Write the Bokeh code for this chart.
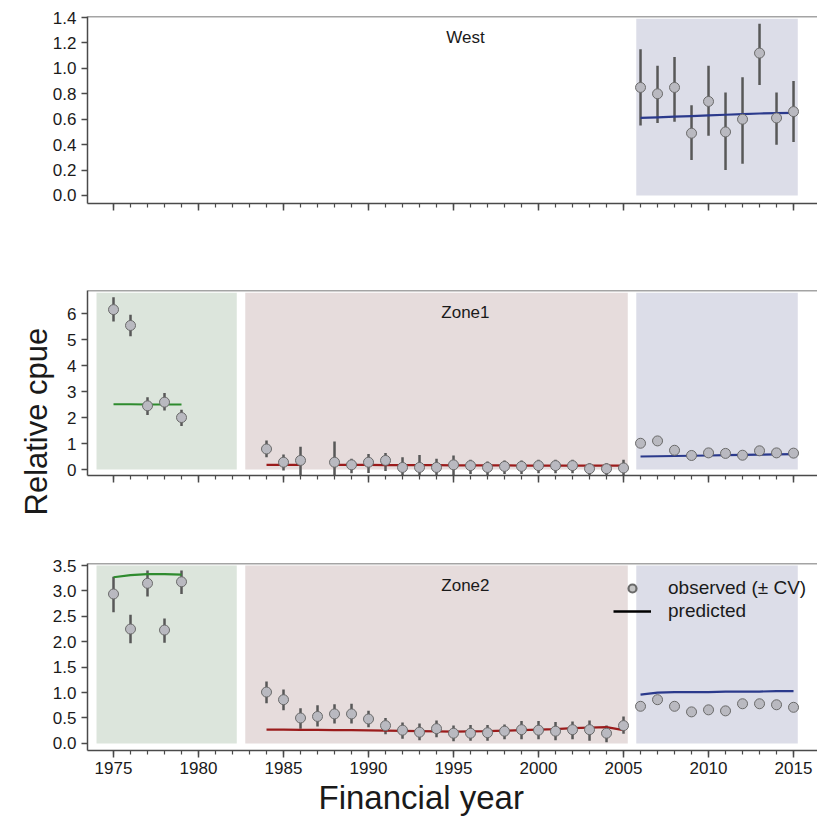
from bokeh.plotting import figure
from bokeh.layouts import column
from bokeh.models import (FixedTicker, Span, Label, Legend, LegendItem, Range1d,
                          CustomJSTickFormatter, Title)
from bokeh.embed import file_html
from bokeh.resources import INLINE

nan = float("nan")
FONT = "Liberation Sans"

# ---------------- data ----------------
years_early = [1975, 1976, 1977, 1978, 1979]
years_mid = list(range(1984, 2006))
years_late = list(range(2006, 2016))

# period shading (start, end) in years
band_left = [1974.0, 1982.75, 2005.75]
band_right = [1982.25, 2005.25, 2015.25]
band_colors = ["#dce5dc", "#e6dcdc", "#dcdde8"]

# West
west_obs = [0.85, 0.80, 0.85, 0.49, 0.74, 0.50, 0.60, 1.12, 0.61, 0.66]
west_lo = [0.55, 0.57, 0.58, 0.28, 0.47, 0.20, 0.25, 0.87, 0.40, 0.42]
west_hi = [1.15, 1.02, 1.09, 0.71, 1.02, 0.81, 0.93, 1.35, 0.81, 0.90]
west_pred = [0.61, 0.615, 0.62, 0.625, 0.63, 0.635, 0.64, 0.645, 0.648, 0.65]

# Zone1
z1_early_obs = [6.15, 5.54, 2.45, 2.59, 2.00]
z1_early_lo = [5.69, 5.13, 2.10, 2.27, 1.67]
z1_early_hi = [6.63, 5.95, 2.78, 2.94, 2.30]
z1_early_pred = [2.51, 2.51, 2.50, 2.50, 2.50]
z1_mid_obs = [0.79, 0.28, 0.35, nan, 0.28, 0.18, 0.28, 0.35, 0.08, 0.08, 0.08,
              0.18, 0.15, 0.08, 0.12, 0.12, 0.15, 0.15, 0.15, 0.03, 0.03, 0.06]
z1_mid_lo = [0.47, -0.04, -0.25, nan, -0.25, -0.14, -0.13, -0.06, -0.25, -0.25, -0.25,
             -0.23, -0.17, -0.23, -0.17, -0.17, -0.14, -0.14, -0.14, -0.23, -0.23, -0.27]
z1_mid_hi = [1.12, 0.58, 0.88, nan, 1.08, 0.41, 0.60, 0.64, 0.47, 0.56, 0.41,
             0.54, 0.38, 0.31, 0.35, 0.35, 0.38, 0.38, 0.38, 0.24, 0.24, 0.38]
z1_mid_pred = [0.18, 0.18, 0.18, nan, 0.18, 0.18, 0.18, 0.17, 0.17, 0.17, 0.17,
               0.16, 0.16, 0.16, 0.16, 0.15, 0.15, 0.15, 0.15, 0.15, 0.15, 0.15]
z1_late_obs = [1.01, 1.10, 0.74, 0.54, 0.64, 0.62, 0.55, 0.72, 0.64, 0.63]
z1_late_lo = [0.97, 1.06, 0.70, 0.50, 0.60, 0.58, 0.51, 0.68, 0.60, 0.59]
z1_late_hi = [1.05, 1.14, 0.78, 0.58, 0.68, 0.66, 0.59, 0.76, 0.68, 0.67]
z1_late_pred = [0.50, 0.51, 0.52, 0.53, 0.54, 0.55, 0.56, 0.57, 0.58, 0.59]

# Zone2
z2_early_obs = [2.94, 2.25, 3.15, 2.23, 3.18]
z2_early_lo = [2.58, 1.97, 2.89, 1.98, 2.94]
z2_early_hi = [3.28, 2.53, 3.40, 2.46, 3.40]
z2_early_pred = [3.27, 3.31, 3.33, 3.33, 3.32]
z2_mid_obs = [1.01, 0.86, 0.50, 0.53, 0.58, 0.58, 0.48, 0.35, 0.26, 0.22, 0.29,
              0.20, 0.20, 0.21, 0.24, 0.27, 0.26, 0.24, 0.27, 0.27, 0.20, 0.35]
z2_mid_lo = [0.79, 0.65, 0.29, 0.33, 0.39, 0.39, 0.32, 0.18, 0.09, 0.06, 0.12,
             0.04, 0.05, 0.05, 0.08, 0.08, 0.08, 0.06, 0.08, 0.05, 0.02, 0.19]
z2_mid_hi = [1.22, 1.06, 0.69, 0.75, 0.77, 0.78, 0.64, 0.50, 0.41, 0.39, 0.45,
             0.35, 0.36, 0.36, 0.37, 0.44, 0.44, 0.42, 0.43, 0.45, 0.35, 0.53]
z2_mid_pred = [0.27, 0.27, 0.265, 0.265, 0.26, 0.26, 0.255, 0.25, 0.245, 0.24, 0.235,
               0.23, 0.235, 0.24, 0.25, 0.26, 0.27, 0.28, 0.30, 0.31, 0.32, 0.26]
z2_late_obs = [0.73, 0.86, 0.73, 0.62, 0.66, 0.64, 0.78, 0.78, 0.76, 0.71]
z2_late_lo = [0.69, 0.82, 0.69, 0.58, 0.62, 0.60, 0.74, 0.74, 0.72, 0.67]
z2_late_hi = [0.77, 0.90, 0.77, 0.66, 0.70, 0.68, 0.82, 0.82, 0.80, 0.75]
z2_late_pred = [0.96, 1.00, 1.01, 1.01, 1.01, 1.02, 1.02, 1.02, 1.03, 1.03]

x_major = [1975, 1980, 1985, 1990, 1995, 2000, 2005, 2010, 2015]
x_minor = list(range(1975, 2016))

west_yticks = [0.0, 0.2, 0.4, 0.6, 0.8, 1.0, 1.2, 1.4]
z1_yticks = [0, 1, 2, 3, 4, 5, 6]
z2_yticks = [0.0, 0.5, 1.0, 1.5, 2.0, 2.5, 3.0, 3.5]

# ---------------- styling ----------------
AX = "#4a4a4a"
TXT = "#1a1a1a"
PRED_COLORS = ["#2e8b2e", "#9b1c1c", "#2b3a8c"]
X_RANGE = (1973.47, 2016.41)


def make_panel(height, top, bottom, yr, yticks, show_xlabels):
    p = figure(width=817, height=height, output_backend="svg", toolbar_location=None,
               x_range=Range1d(*X_RANGE), y_range=Range1d(*yr),
               min_border_left=87, min_border_right=0,
               min_border_top=top, min_border_bottom=bottom)
    p.outline_line_color = None
    p.xgrid.visible = False
    p.ygrid.visible = False
    p.background_fill_color = "white"
    p.border_fill_color = "white"
    for ax in (p.xaxis[0], p.yaxis[0]):
        ax.axis_line_color = AX
        ax.axis_line_width = 1.5
        ax.major_tick_line_color = AX
        ax.major_tick_line_width = 1.5
        ax.major_tick_in = 0
        ax.major_label_text_font = FONT
        ax.major_label_text_font_size = "17px"
        ax.major_label_text_color = TXT
    p.xaxis.ticker = FixedTicker(ticks=x_major, minor_ticks=x_minor)
    p.xaxis.major_tick_out = 7
    p.xaxis.minor_tick_out = 4
    p.xaxis.minor_tick_in = 0
    p.xaxis.minor_tick_line_color = AX
    p.xaxis.minor_tick_line_width = 1.2
    p.xaxis.major_label_standoff = 4
    if not show_xlabels:
        p.xaxis.formatter = CustomJSTickFormatter(code="return ''")
    p.yaxis.ticker = FixedTicker(ticks=yticks, minor_ticks=[])
    p.yaxis.major_tick_out = 6
    p.yaxis.major_label_standoff = 5
    p.add_layout(Span(location=yr[1], dimension="width", line_color=AX, line_width=1.5))
    return p


def draw_period(p, years, obs, lo, hi, pred, color):
    p.segment(x0=years, y0=lo, x1=years, y1=hi, line_color="#585858", line_width=2.5)
    p.line(years, pred, line_color=color, line_width=2.2)
    p.scatter(years, obs, size=10, fill_color="#b9b9c0", line_color="#6a6a6a",
              line_width=1)


def bands(p, idx, top):
    p.quad(left=[band_left[i] for i in idx], right=[band_right[i] for i in idx],
           bottom=0, top=top, fill_color=[band_colors[i] for i in idx], line_color=None)


def title(p, text, y):
    p.add_layout(Label(x=1995.7, y=y, text=text, text_align="center",
                       text_baseline="middle", text_font=FONT,
                       text_font_size="17px", text_color=TXT))


# ---- West ----
p1 = make_panel(248, 16, 45, (-0.063, 1.408), west_yticks, False)
p1.yaxis.formatter = CustomJSTickFormatter(code="return tick.toFixed(1)")
bands(p1, [2], 1.39)
draw_period(p1, years_late, west_obs, west_lo, west_hi, west_pred, PRED_COLORS[2])
title(p1, "West", 1.24)

# ---- Zone1 ----
p2 = make_panel(272, 42, 45, (-0.23, 6.885), z1_yticks, False)
bands(p2, [0, 1, 2], 6.8)
draw_period(p2, years_early, z1_early_obs, z1_early_lo, z1_early_hi, z1_early_pred, PRED_COLORS[0])
draw_period(p2, years_mid, z1_mid_obs, z1_mid_lo, z1_mid_hi, z1_mid_pred, PRED_COLORS[1])
draw_period(p2, years_late, z1_late_obs, z1_late_lo, z1_late_hi, z1_late_pred, PRED_COLORS[2])
title(p2, "Zone1", 6.04)
p2.add_layout(Title(text="Relative cpue", align="left", offset=-40, standoff=22,
                    text_font=FONT, text_font_size="31px", text_font_style="normal",
                    text_color=TXT), "left")

# ---- Zone2 ----
p3 = make_panel(299, 43, 69, (-0.14, 3.54), z2_yticks, True)
p3.yaxis.formatter = CustomJSTickFormatter(code="return tick.toFixed(1)")
bands(p3, [0, 1, 2], 3.5)
draw_period(p3, years_early, z2_early_obs, z2_early_lo, z2_early_hi, z2_early_pred, PRED_COLORS[0])
draw_period(p3, years_mid, z2_mid_obs, z2_mid_lo, z2_mid_hi, z2_mid_pred, PRED_COLORS[1])
draw_period(p3, years_late, z2_late_obs, z2_late_lo, z2_late_hi, z2_late_pred, PRED_COLORS[2])
title(p3, "Zone2", 3.10)
p3.add_layout(Title(text="Financial year", align="left", offset=231, standoff=0,
                    text_font=FONT, text_font_size="33px", text_font_style="normal",
                    text_color=TXT), "below")

leg_marker = p3.scatter(x=[nan], y=[nan], size=8, fill_color="#c4c4c4",
                        line_color="#6a6a6a", line_width=2.2)
leg_line = p3.line(x=[nan, nan], y=[nan, nan], line_color="black", line_width=2.5)
legend = Legend(items=[LegendItem(label="observed (± CV)", renderers=[leg_marker], index=0),
                       LegendItem(label="predicted", renderers=[leg_line], index=0)],
                location=(526, 128), glyph_width=38, glyph_height=20, label_height=20,
                label_standoff=17, spacing=1, padding=0, margin=0,
                border_line_color=None, background_fill_alpha=0,
                label_text_font=FONT, label_text_font_size="19px", label_text_color=TXT)
p3.add_layout(legend)

layout = column(p1, p2, p3, spacing=0)
open("out.html", "w").write(file_html(layout, INLINE))
